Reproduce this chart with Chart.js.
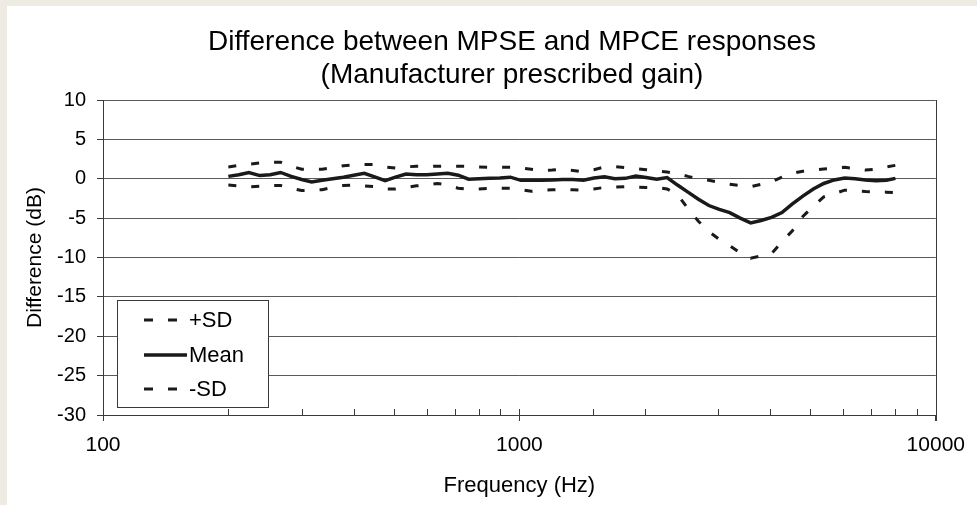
<!DOCTYPE html>
<html>
<head>
<meta charset="utf-8">
<title>Difference between MPSE and MPCE responses</title>
<script src="https://cdn.jsdelivr.net/npm/chart.js@4.4.1/dist/chart.umd.min.js"></script>
<style>
    html, body { margin: 0; padding: 0; background: #eeece2; width: 977px; height: 505px; overflow: hidden; }
    #frame { position: absolute; left: 7px; top: 6px; width: 970px; height: 499px; background: #ffffff; }
    canvas { display: block; }
</style>
</head>
<body>
<div id="frame"><canvas id="differenceChart" width="970" height="499"></canvas></div>
<script>
// 1/12 octave frequencies (Hz)
const frequencies = [200, 212, 224, 238, 252, 267, 283, 300, 317, 336,
    356, 378, 400, 424, 449, 476, 504, 534, 566, 599,
    635, 673, 713, 755, 800, 848, 898, 951, 1008, 1068,
    1131, 1199, 1270, 1345, 1425, 1510, 1600, 1695, 1796, 1903,
    2016, 2136, 2263, 2397, 2540, 2691, 2851, 3020, 3200, 3390,
    3592, 3805, 4032, 4271, 4525, 4794, 5080, 5382, 5702, 6041,
    6400, 6780, 7184, 7611, 8000];

const plusSd = [1.5, 1.7, 1.85, 2.0, 2.1, 2.1, 1.6, 1.2, 1.2, 1.2,
    1.4, 1.65, 1.75, 1.8, 1.8, 1.5, 1.35, 1.5, 1.6, 1.6,
    1.6, 1.6, 1.6, 1.6, 1.5, 1.45, 1.45, 1.45, 1.35, 1.2,
    1.05, 1.1, 1.2, 1.05, 0.9, 1.15, 1.5, 1.55, 1.4, 1.3,
    1.15, 1.0, 0.85, 0.65, 0.3, 0.0, -0.2, -0.45, -0.7, -0.85,
    -1.0, -0.7, -0.4, 0.2, 0.7, 0.95, 1.1, 1.25, 1.35, 1.45,
    1.3, 1.1, 1.2, 1.5, 1.7];

const mean = [0.3, 0.5, 0.8, 0.4, 0.5, 0.8, 0.3, -0.1, -0.4, -0.2,
    0.0, 0.2, 0.45, 0.7, 0.25, -0.25, 0.2, 0.6, 0.5, 0.5,
    0.6, 0.7, 0.45, -0.05, 0.0, 0.05, 0.1, 0.2, -0.2, -0.2,
    -0.2, -0.15, -0.1, -0.1, -0.2, 0.1, 0.25, 0.0, 0.05, 0.35,
    0.15, -0.05, 0.15, -0.8, -1.7, -2.6, -3.4, -3.9, -4.3, -5.0,
    -5.6, -5.3, -4.9, -4.3, -3.2, -2.2, -1.3, -0.6, -0.15, 0.1,
    0.0, -0.15, -0.25, -0.2, 0.05];

const minusSd = [-0.8, -0.9, -1.05, -0.95, -0.85, -0.85, -1.2, -1.5, -1.45, -1.4,
    -1.1, -0.85, -0.8, -0.9, -1.0, -1.3, -1.3, -1.1, -0.9, -0.8,
    -0.6, -0.8, -1.2, -1.35, -1.3, -1.22, -1.22, -1.22, -1.4, -1.6,
    -1.45, -1.4, -1.35, -1.4, -1.43, -1.3, -1.1, -1.05, -1.0, -1.05,
    -1.1, -1.1, -1.3, -2.0, -3.8, -5.4, -6.7, -7.7, -8.5, -9.4,
    -10.1, -9.8, -9.5, -8.0, -6.6, -4.8, -3.5, -2.3, -1.9, -1.45,
    -1.5, -1.62, -1.68, -1.7, -1.75];

const xLabelValues = [100, 1000, 10000];
const titleLines = ['Difference between MPSE and MPCE responses', '(Manufacturer prescribed gain)'];

const fontFamily = "'Liberation Sans', Arial, sans-serif";
const lineColor = '#1a1a1a';
const axisColor = '#3a3a3a';

function toPoints(values) {
    return values.map((v, i) => ({x: frequencies[i], y: v}));
}

// title, right border, inner minor ticks and the boxed legend
const decorations = {
    id: 'decorations',
    afterDraw(chart) {
        const ctx = chart.ctx;
        const area = chart.chartArea;
        const xScale = chart.scales.x;
        ctx.save();

        ctx.strokeStyle = axisColor;
        ctx.lineWidth = 1;
        ctx.beginPath();
        ctx.moveTo(Math.round(area.right) + 0.5, area.top);
        ctx.lineTo(Math.round(area.right) + 0.5, area.bottom + 6);
        for (const tick of xScale.ticks) {
            let px = Math.round(xScale.getPixelForValue(tick.value)) + 0.5;
            ctx.moveTo(px, area.bottom);
            ctx.lineTo(px, area.bottom - 6);
        }
        ctx.stroke();

        ctx.fillStyle = '#000';
        ctx.textAlign = 'center';
        ctx.textBaseline = 'alphabetic';
        ctx.font = '28px ' + fontFamily;
        ctx.fillText(titleLines[0], 505, 44);
        ctx.fillText(titleLines[1], 505, 77);

        // legend box
        const boxLeft = area.left + 14;
        const boxBottom = area.bottom - 8;
        const boxWidth = 151;
        const boxHeight = 107;
        const boxTop = boxBottom - boxHeight;
        ctx.fillStyle = '#fff';
        ctx.fillRect(boxLeft, boxTop, boxWidth, boxHeight);
        ctx.strokeStyle = axisColor;
        ctx.strokeRect(Math.round(boxLeft) + 0.5, Math.round(boxTop) + 0.5, boxWidth, boxHeight);

        const rowY = [20, 55, 89];
        chart.data.datasets.forEach((ds, i) => {
            let y = boxTop + rowY[i];
            ctx.strokeStyle = ds.borderColor;
            ctx.lineWidth = ds.borderWidth;
            ctx.setLineDash(ds.borderDash ? [9, 15] : []);
            ctx.beginPath();
            ctx.moveTo(boxLeft + 27, y);
            ctx.lineTo(boxLeft + (ds.borderDash ? 61 : 70), y);
            ctx.stroke();
            ctx.setLineDash([]);
            ctx.fillStyle = '#000';
            ctx.textAlign = 'left';
            ctx.textBaseline = 'middle';
            ctx.font = '22px ' + fontFamily;
            ctx.fillText(ds.label, boxLeft + 72, y + 1);
        });
        ctx.restore();
    }
};

let ctx = document.getElementById('differenceChart');
let differenceChart = new Chart(ctx, {
    type: 'line',
    data: {
        datasets: [
            {
                label: '+SD',
                data: toPoints(plusSd),
                borderColor: lineColor,
                borderWidth: 3,
                borderDash: [8, 15],
                pointRadius: 0,
                fill: false,
                tension: 0
            },
            {
                label: 'Mean',
                data: toPoints(mean),
                borderColor: lineColor,
                borderWidth: 3.5,
                pointRadius: 0,
                fill: false,
                tension: 0
            },
            {
                label: '-SD',
                data: toPoints(minusSd),
                borderColor: lineColor,
                borderWidth: 3,
                borderDash: [8, 15],
                pointRadius: 0,
                fill: false,
                tension: 0
            }
        ]
    },
    options: {
        responsive: false,
        animation: false,
        layout: {
            padding: {top: 94, left: 0, right: 38, bottom: 0}
        },
        scales: {
            x: {
                type: 'logarithmic',
                min: 100,
                max: 10000,
                afterFit: scale => { scale.height = 90; },
                ticks: {
                    autoSkip: false,
                    maxRotation: 0,
                    padding: 12,
                    color: '#000',
                    font: {family: fontFamily, size: 21},
                    callback: value => xLabelValues.includes(value) ? String(value) : ''
                },
                grid: {
                    drawOnChartArea: false,
                    tickLength: 6,
                    tickColor: c => (c.tick && xLabelValues.includes(c.tick.value)) ? axisColor : 'rgba(0,0,0,0)'
                },
                border: {color: axisColor, width: 1},
                title: {
                    display: true,
                    text: 'Frequency (Hz)',
                    color: '#000',
                    font: {family: fontFamily, size: 22},
                    padding: {top: 0, bottom: 6}
                }
            },
            y: {
                min: -30,
                max: 10,
                afterFit: scale => { scale.width = 96; },
                ticks: {
                    stepSize: 5,
                    padding: 11,
                    color: '#000',
                    font: {family: fontFamily, size: 20}
                },
                grid: {
                    color: '#5a5a5a',
                    lineWidth: 1,
                    tickLength: 6,
                    tickColor: axisColor
                },
                border: {color: axisColor, width: 1},
                title: {
                    display: true,
                    text: 'Difference (dB)',
                    color: '#000',
                    font: {family: fontFamily, size: 21},
                    padding: {top: 16, bottom: 0}
                }
            }
        },
        plugins: {
            legend: {display: false},
            title: {display: false},
            tooltip: {enabled: false}
        }
    },
    plugins: [decorations]
});
</script>
</body>
</html>
